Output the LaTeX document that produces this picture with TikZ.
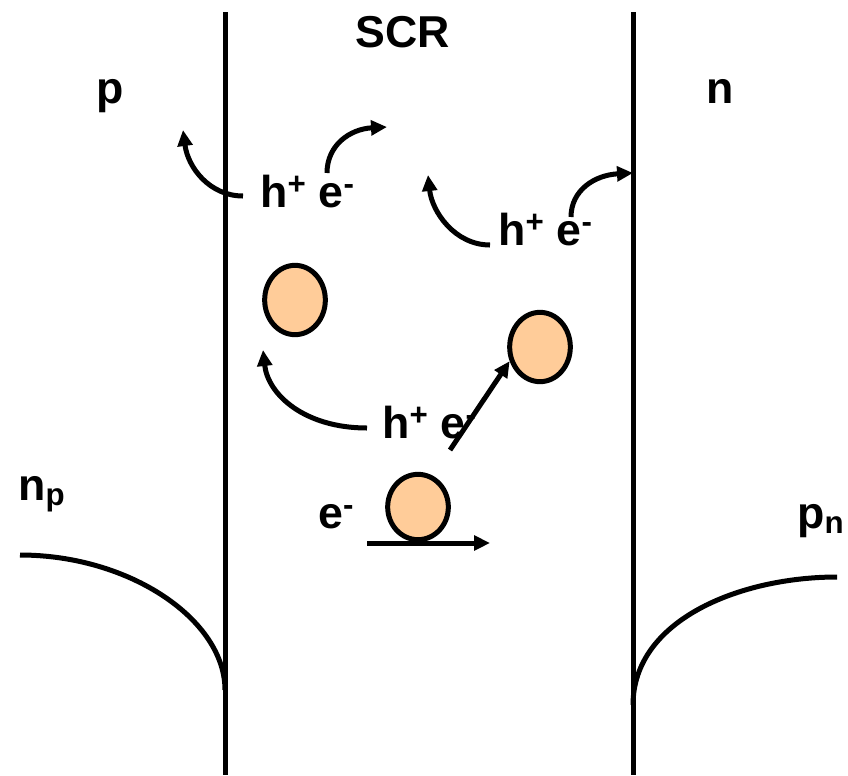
\documentclass[tikz,border=0pt]{standalone}
\usepackage{fontspec}
\setmainfont{Liberation Sans}
\usetikzlibrary{arrows.meta,shapes.geometric}

\definecolor{peach}{HTML}{FFCC99}

\begin{document}
\begin{tikzpicture}[x=0.75pt,y=-0.75pt,
  thick line/.style={line width=3.75pt},
  flow/.style={line width=3.75pt,-{Triangle[length=12pt,width=11pt]}},
  lbl/.style={inner sep=0pt,font=\fontsize{33.5pt}{40pt}\selectfont\bfseries},
  carrier/.style={ellipse,draw,line width=3.75pt,fill=peach,inner sep=0pt,
    minimum width=45.5pt,minimum height=52pt}]
  \useasboundingbox (0,0) rectangle (848,775);

  % junction boundaries of the space charge region
  \coordinate (topL) at (225,12);
  \coordinate (botL) at (225,775);
  \coordinate (topR) at (633,12);
  \coordinate (botR) at (633,775);
  \draw[thick line] (topL) -- (botL);
  \draw[thick line] (topR) -- (botR);

  % region labels
  \node[lbl,anchor=base] (scr) at (403,47) {SCR};
  \node[lbl,anchor=base west] (pside) at (96,103) {p};
  \node[lbl,anchor=base west] (nside) at (706,103) {n};

  % electron-hole pairs
  \node[lbl,anchor=base west] (pair1) at (260,207) {h\textsuperscript{+} e\textsuperscript{-}};
  \node[lbl,anchor=base west] (pair2) at (498,245) {h\textsuperscript{+} e\textsuperscript{-}};
  \node[lbl,anchor=base west] (pair3) at (382,438) {h\textsuperscript{+} e\textsuperscript{-}};
  \node[lbl,anchor=base west] (elec) at (318,528) {e\textsuperscript{-}};

  % minority carrier labels
  \node[lbl,anchor=base west] (np) at (18,500) {n\textsubscript{p}};
  \node[lbl,anchor=base west] (pn) at (797,528) {p\textsubscript{n}};

  % carriers
  \node[carrier] (c1) at (295,300) {};
  \node[carrier] (c2) at (540,347) {};
  \node[carrier,minimum height=49pt] (c3) at (418,507) {};

  % carrier separation arrows
  \coordinate (a1s) at (243,196);
  \coordinate (a1e) at (183,130);
  \draw[flow] (a1s) .. controls (210,196) and (188,168) .. (a1e);
  \coordinate (a2s) at (327,173);
  \coordinate (a2e) at (387,127);
  \draw[flow] (a2s) .. controls (327,145) and (350,129) .. (a2e);

  \coordinate (b1s) at (490,245);
  \coordinate (b1e) at (428,175);
  \draw[flow] (b1s) .. controls (455,245) and (432,212) .. (b1e);
  \coordinate (b2s) at (571,217);
  \draw[flow] (b2s) .. controls (571,190) and (595,175) .. (topR |- 0,173);

  \coordinate (d1s) at (367,428);
  \coordinate (d1e) at (263,350);
  \draw[flow] (d1s) .. controls (305,428) and (268,395) .. (d1e);
  \coordinate (d2s) at (450,450);
  \draw[flow] (d2s) -- (c2.205);

  % drift of the electron
  \coordinate (es) at (367,543);
  \coordinate (ee) at (490,543);
  \draw[flow] (es) -- (ee);

  % minority carrier profiles
  \coordinate (npl) at (20,555);
  \draw[thick line] (npl) .. controls (130,555) and (225,620) .. (225,690);
  \coordinate (pnr) at (837,577);
  \draw[thick line] (633,705) .. controls (633,620) and (740,577) .. (pnr);
\end{tikzpicture}
\end{document}
